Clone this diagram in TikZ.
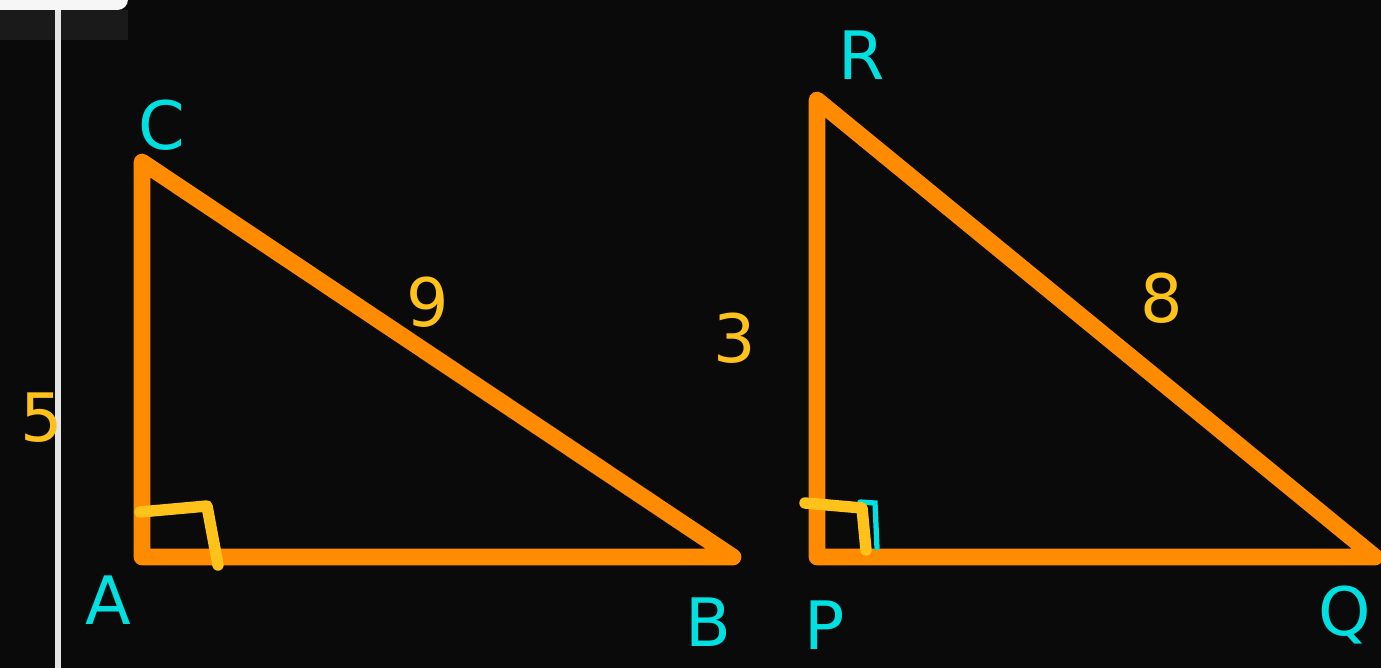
\documentclass[tikz,border=0pt]{standalone}
\usepackage{fontspec}
\setmainfont{DejaVu Sans}
\definecolor{bg}{HTML}{0A0A0A}
\definecolor{tri}{HTML}{FF8C00}
\definecolor{lbl}{HTML}{00E0E0}
\definecolor{num}{HTML}{FFC21A}
\tikzset{
  side/.style={draw=tri, line width=9.5pt, line join=round, line cap=round},
  vlabel/.style={text=lbl, font=\fontsize{38}{38}\selectfont, inner sep=0pt},
  nlabel/.style={text=num, font=\fontsize{38}{38}\selectfont, inner sep=0pt},
  rmark/.style={draw=num, line width=6.5pt, line cap=round, line join=round}
}
\begin{document}
\begin{tikzpicture}[x=0.02cm, y=-0.02cm]
\fill[bg] (0,0) rectangle (1381,668);
\useasboundingbox (0,0) rectangle (1381,668);
% top-left widget
\fill[black!80!white, opacity=0.4] (0,10) rectangle (128,40);
\fill[white!93!gray, rounded corners=6pt] (-20,-20) rectangle (128,10);
\draw[white!80!gray, line width=3.5pt] (58,10) -- (58,668);
% vertices
\coordinate (A) at (142,557);
\coordinate (B) at (733,557);
\coordinate (C) at (142,162);
\coordinate (P) at (817,557);
\coordinate (Q) at (1375,557);
\coordinate (R) at (817,100);
\draw[side] (A) -- (B) -- (C) -- cycle;
\draw[side] (P) -- (Q) -- (R) -- cycle;
% right-angle marks
\coordinate (m1a) at (140,512);
\coordinate (m1b) at (207,506);
\coordinate (m1c) at (218,565);
\draw[rmark] (m1a) -- (m1b) -- (m1c);
\coordinate (m2a) at (805,503);
\coordinate (m2b) at (862,508);
\coordinate (m2c) at (866,550);
\draw[draw=lbl, line width=3pt, line cap=round] (860,502) -- (875,503) -- (877,548);
\draw[rmark] (m2a) -- (m2b) -- (m2c);
% vertex labels
\node[vlabel] (lC) at (162,125) {C};
\node[vlabel] (lA) at (108,600) {A};
\node[vlabel] (lB) at (708,622) {B};
\node[vlabel] (lP) at (825,625) {P};
\node[vlabel] (lQ) at (1345,615) {Q};
\node[vlabel] (lR) at (862,55) {R};
% side lengths
\node[nlabel] (n9) at (428,302) {9};
\node[nlabel] (n3) at (735,338) {3};
\node[nlabel] (n5) at (42,418) {5};
\node[nlabel] (n8) at (1162,298) {8};
\end{tikzpicture}
\end{document}
